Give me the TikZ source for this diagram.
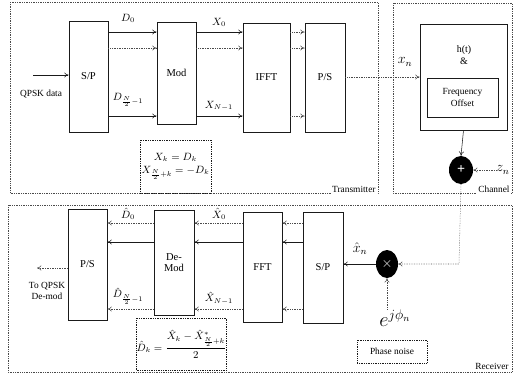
\documentclass[tikz,border=0pt]{standalone}
\usepackage{amsmath}
\usepackage{fontspec}
\setmainfont{Liberation Serif}
\usetikzlibrary{arrows.meta,shapes.geometric}
\definecolor{Ink}{HTML}{1A1A1A}
\definecolor{Mute}{HTML}{4A4A4A}

\begin{document}
\begin{tikzpicture}[
  x=0.3mm, y=-0.3mm,
  >={To[length=1.3mm,width=1.5mm]},
  blk/.style={draw=Ink, line width=0.75pt, inner sep=0pt, align=center, font=\fontsize{9}{10}\selectfont},
  fbox/.style={draw=Ink, densely dotted, line width=0.5pt, inner sep=0pt, align=center},
  frame/.style={draw=Mute, densely dotted, line width=0.5pt},
  tag/.style={inner sep=1pt, font=\fontsize{8}{9}\selectfont, align=center},
  lbl/.style={inner sep=0pt, font=\fontsize{9}{10}\selectfont},
  arr/.style={->, line width=0.45pt, draw=Ink},
  darr/.style={->, line width=0.45pt, draw=Mute, densely dotted},
  sumdot/.style={ellipse, fill=black, inner sep=0pt, text=white, font=\bfseries\large},
]
\useasboundingbox (0,0) rectangle (515,378);
% frames
\draw[frame] (10,2) rectangle (378,193);
\draw[frame] (393,3) rectangle (512,193);
\draw[frame] (8,205) rectangle (512,372);
\node[tag, anchor=south east, fill=white] (ttx) at (377,194) {Transmitter};
\node[tag, anchor=south east, fill=white] (tch) at (511,194) {Channel};
\node[tag, anchor=south east, fill=white] (trx) at (510,371) {Receiver};
% transmitter
\node[blk, minimum width=11.7mm, minimum height=33.3mm] (tsp) at (88.5,76.5) {S/P};
\node[blk, minimum width=11.7mm, minimum height=30.6mm] (mod) at (176.5,73) {Mod};
\node[blk, minimum width=14.1mm, minimum height=32.7mm] (ifft) at (266.5,77.5) {IFFT};
\node[blk, minimum width=12mm, minimum height=32.7mm] (tps) at (325,77.5) {P/S};
\coordinate (r1) at (0,32);
\coordinate (r2) at (0,48);
\coordinate (r3) at (0,116);
\coordinate (qin) at (33,75);
\node[tag] (qtxt) at (41,94) {QPSK data};
\draw[arr] (qin) -- (tsp.west |- qin);
\draw[arr] (tsp.east |- r1) -- (mod.west |- r1);
\draw[darr] (tsp.east |- r2) -- (mod.west |- r2);
\draw[arr] (tsp.east |- r3) -- (mod.west |- r3);
\draw[arr] (mod.east |- r1) -- (ifft.west |- r1);
\draw[darr] (mod.east |- r2) -- (ifft.west |- r2);
\draw[arr] (mod.east |- r3) -- (ifft.west |- r3);
\draw[darr] (ifft.east |- r1) -- (tps.west |- r1);
\draw[darr] (ifft.east |- r2) -- (tps.west |- r2);
\draw[darr] (ifft.east |- r3) -- (tps.west |- r3);
\node[lbl] (ld0) at (128,18) {$D_0$};
\node[lbl] (ldn) at (128,100) {$D_{\frac{N}{2}-1}$};
\node[lbl] (lx0) at (219,22) {$X_0$};
\node[lbl] (lxn) at (219,106) {$X_{N-1}$};
\node[fbox, minimum width=21.3mm, minimum height=15.9mm, font=\fontsize{9}{10}\selectfont] (tfor) at (175.5,166.5) {$X_k = D_k$\\[1pt] $X_{\frac{N}{2}+k} = -D_k$};
% channel
\node[blk, minimum width=26.1mm, minimum height=31.8mm] (chan) at (463.5,77) {};
\node[lbl, align=center, font=\fontsize{8.5}{10.5}\selectfont] (hlbl) at (464,55) {h(t)\\\&};
\node[blk, line width=0.4pt, minimum width=21.3mm, minimum height=11.7mm, font=\fontsize{8}{10}\selectfont] (foff) at (462.5,97.5) {Frequency\\Offset};
\draw[darr] (tps.east |- chan.west) -- (chan.west);
\node[lbl, font=\fontsize{12}{12}\selectfont] (lxn2) at (405,62) {$x_n$};
\node[sumdot, minimum width=7.2mm, minimum height=8.4mm] (add) at (461,170) {+};
\draw[arr] (chan.south) -- (add.north);
\node[lbl, font=\fontsize{12}{12}\selectfont] (zn) at (503,170) {$z_n$};
\draw[darr] (zn.west) -- (add.east);
% receiver
\node[blk, minimum width=12mm, minimum height=33.3mm] (rsp) at (323,267.5) {S/P};
\node[blk, minimum width=11.7mm, minimum height=33mm] (fft) at (262.5,267) {FFT};
\node[blk, minimum width=12mm, minimum height=31.5mm] (demod) at (174,262.5) {De-\\Mod};
\node[blk, minimum width=11.7mm, minimum height=33.3mm] (rps) at (87.5,264.5) {P/S};
\node[sumdot, minimum width=6.6mm, minimum height=8.4mm] (mult) at (387,264) {$\times$};
\coordinate (bend) at (459,264);
\draw[darr] (add.south) -- (bend) -- (mult.east);
\draw[arr] (mult.west) -- (rsp.east |- mult.west);
\node[lbl, font=\fontsize{12}{12}\selectfont] (lxh) at (360,249) {$\hat{x}_n$};
\node[lbl, font=\fontsize{17}{17}\selectfont] (ephi) at (395,318) {$e^{j\phi_n}$};
\draw[darr] (ephi.north -| mult.south) -- (mult.south);
\node[fbox, minimum width=21mm, minimum height=6.9mm, font=\fontsize{8}{9}\selectfont] (pnz) at (392,351.5) {Phase noise};
\coordinate (s1) at (0,223);
\coordinate (s2) at (0,242);
\coordinate (s3) at (0,309);
\draw[darr] (rsp.west |- s1) -- (fft.east |- s1);
\draw[arr] (rsp.west |- s2) -- (fft.east |- s2);
\draw[darr] (rsp.west |- s3) -- (fft.east |- s3);
\draw[darr] (fft.west |- s1) -- (demod.east |- s1);
\draw[arr] (fft.west |- s2) -- (demod.east |- s2);
\draw[darr] (fft.west |- s3) -- (demod.east |- s3);
\draw[darr] (demod.west |- s1) -- (rps.east |- s1);
\draw[arr] (demod.west |- s2) -- (rps.east |- s2);
\draw[darr] (demod.west |- s3) -- (rps.east |- s3);
\node[lbl] (lhd0) at (128,214) {$\hat{D}_0$};
\node[lbl] (lhdn) at (128,296) {$\hat{D}_{\frac{N}{2}-1}$};
\node[lbl] (lhx0) at (219,214) {$\hat{X}_0$};
\node[lbl] (lhxn) at (219,298) {$\hat{X}_{N-1}$};
\coordinate (qout) at (37,268);
\draw[darr] (rps.west |- qout) -- (qout);
\node[tag] (qotxt) at (47,291) {To QPSK\\De-mod};
\node[fbox, minimum width=24.9mm, minimum height=15.6mm, font=\fontsize{9}{10}\selectfont] (rfor) at (181.5,344) {$\hat{D}_k = \dfrac{\hat{X}_k - \hat{X}^{*}_{\frac{N}{2}+k}}{2}$};
\end{tikzpicture}
\end{document}
